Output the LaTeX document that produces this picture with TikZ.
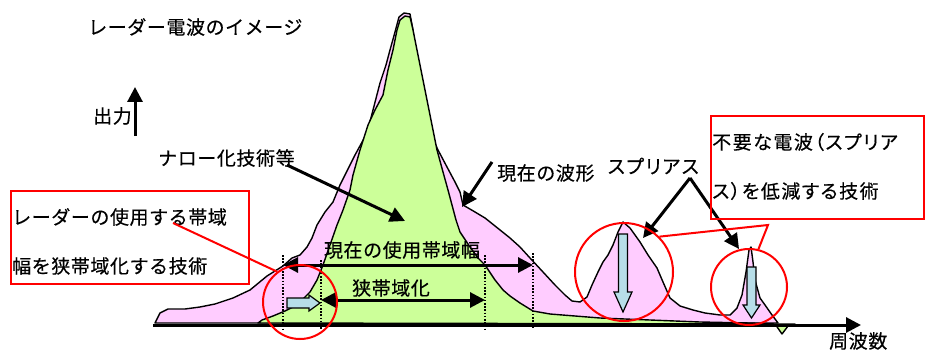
\documentclass[tikz,border=0pt]{standalone}
\usepackage{fontspec}
\newfontfamily\jp{Noto Sans CJK JP}[LetterSpace=3,FakeBold=0.4]
\newfontfamily\jpprop{Noto Sans CJK JP}[RawFeature=+palt,LetterSpace=8,FakeBold=0.4]
\usetikzlibrary{arrows.meta}
\definecolor{WavePink}{HTML}{FFCCFF}
\definecolor{NarrowGreen}{HTML}{CCFF99}
\definecolor{CutBlue}{HTML}{B7DEE8}
\definecolor{MarkRed}{HTML}{FF0000}
\tikzset{lbl/.style={font=\jp\fontsize{19}{22}\selectfont,inner sep=0pt,text=black},proplbl/.style={font=\jpprop\fontsize{19}{22}\selectfont,inner sep=0pt,text=black},wave/.style={draw=black,line width=1.4pt,line join=round},pointer/.style={draw=black,line width=3pt,-{Triangle[length=15pt,width=15pt]}},span/.style={draw=black,line width=3pt,{Triangle[length=15pt,width=15pt]}-{Triangle[length=15pt,width=15pt]}},guide/.style={draw=black,line width=1.6pt,dash pattern=on 1.6pt off 1.6pt},cutarrow/.style={draw=black,line width=1.2pt,fill=CutBlue,line join=miter},spot/.style={circle,draw=MarkRed,line width=2pt,inner sep=0pt},callline/.style={draw=MarkRed,line width=2pt},callbox/.style={rectangle,draw=MarkRed,line width=2pt,inner sep=0pt}}
\begin{document}
\begin{tikzpicture}[x=1pt,y=-1pt]
\useasboundingbox (0,0) rectangle (925,350);
% current waveform
\draw[wave,fill=WavePink] plot coordinates {(155,323) (160,313) (168,309) (185,309) (200,307) (215,304) (233,298) (250,290) (267,276) (283,266) (292,258) (300,255) (307,247) (312,238) (317,225) (325,212) (333,202) (340,185) (345,175) (355,155) (367,133) (373,110) (380,83) (386,65) (390,50) (395,32) (399,17) (404,13) (410,14) (413,30) (416,55) (420,83) (425,110) (430,133) (438,150) (447,167) (455,182) (460,192) (463,205) (475,212) (485,218) (500,230) (510,238) (520,247) (530,258) (543,272) (555,285) (565,295) (572,301) (580,302) (587,297) (592,285) (598,272) (603,262) (608,255) (613,245) (618,232) (623,222) (630,228) (640,242) (648,255) (657,268) (663,282) (670,298) (680,306) (693,310) (705,313) (720,315) (730,315) (737,308) (742,295) (746,272) (749,250) (751,247) (753,262) (755,280) (760,298) (765,305) (772,315) (778,323)} -- cycle;
% narrowed waveform
\draw[wave,fill=NarrowGreen] plot coordinates {(258,323) (262,320) (273,316) (285,311) (293,307) (302,300) (310,292) (317,280) (323,265) (330,245) (337,225) (343,210) (350,190) (353,175) (360,150) (368,125) (375,110) (383,95) (388,70) (393,50) (397,30) (400,20) (405,16) (410,17) (413,30) (417,50) (422,75) (427,100) (432,125) (437,150) (443,172) (448,190) (452,205) (456,220) (460,232) (470,247) (478,258) (485,265) (495,280) (503,290) (510,296) (520,303) (533,311) (550,314) (575,316) (600,318) (650,320) (700,322) (750,323) (775,324) (782,334) (788,326) (795,324)} -- cycle;
% band limits
\coordinate (oldL) at (283,265);\coordinate (oldR) at (533,265);\coordinate (newL) at (321,300);\coordinate (newR) at (485,300);
\draw[guide] (283,255)--(283,329);\draw[guide] (321,260)--(321,329);\draw[guide] (485,255)--(485,329);\draw[guide] (533,253)--(533,329);
\draw[span] (oldL)--(oldR);\draw[span] (newL)--(newR);
\node[lbl] (oldband) at (402,250) {現在の使用帯域幅};
\node[lbl] (newband) at (391,288) {狭帯域化};
% reduction arrows
\draw[cutarrow] (287,298)--(309,298)--(309,295)--(320,303)--(309,311)--(309,308)--(287,308)--cycle;
\draw[cutarrow] (618.5,234)--(627.5,234)--(627.5,292)--(632,292)--(623,312)--(614,292)--(618.5,292)--cycle;
\draw[cutarrow] (747,267)--(756,267)--(756,305)--(760,305)--(751.5,318)--(743,305)--(747,305)--cycle;
% axes
\coordinate (ax0) at (153,325);\coordinate (ax1) at (861,325);\coordinate (up0) at (135,136);\coordinate (up1) at (135,87);
\draw[pointer] (ax0)--(ax1);\draw[pointer] (up0)--(up1);
\node[lbl,anchor=west] (title) at (88,27) {レーダー電波のイメージ};
\node[lbl,anchor=west] (power) at (93,116) {出力};
\node[lbl,anchor=west] (freq) at (829,341) {周波数};
% labels with pointers
\node[lbl,anchor=west] (narrowtech) at (158,158) {ナロー化技術等};
\coordinate (narrowfoot) at (287,165);\coordinate (narrowtip) at (405,221);
\draw[pointer] (narrowfoot)--(narrowtip);
\node[lbl,anchor=west] (nowwave) at (497,173) {現在の波形};
\coordinate (nowfoot) at (492,162);\coordinate (nowtip) at (462,207);
\draw[pointer] (nowfoot)--(nowtip);
\node[proplbl,anchor=east] (spur) at (699,166) {スプリアス};
\coordinate (spurtop) at (690,178);\coordinate (spurtipA) at (643,238);\coordinate (spurtipB) at (739,249);
\draw[pointer] (spurtop)--(spurtipA);\draw[pointer] (spurtop)--(spurtipB);
% red marks
\node[spot,minimum size=74pt] (spotA) at (300,302) {};
\node[spot,minimum size=98pt] (spotB) at (624,272) {};
\node[spot,minimum size=76pt] (spotC) at (749,287) {};
\node[callbox,minimum width=238pt,minimum height=93pt,anchor=north west] (bandbox) at (10,190) {};
\node[lbl,anchor=west] (bandtxtA) at (12,217) {レーダーの使用する帯域};
\node[lbl,anchor=west] (bandtxtB) at (12,266) {幅を狭帯域化する技術};
\node[callbox,minimum width=213pt,minimum height=103pt,anchor=north west] (spurbox) at (710,115) {};
\node[proplbl,anchor=west] (spurtxtA) at (712,142) {不要な電波（スプリア};
\node[proplbl,anchor=west] (spurtxtB) at (712,191) {ス）を低減する技術};
\coordinate (bandfoot) at (173,223);\coordinate (spurbend) at (768,225);
\draw[callline] (bandfoot)--(spotA.127);
\draw[callline] (spotB.45)--(spurbend)--(spotC.76);
\end{tikzpicture}
\end{document}
